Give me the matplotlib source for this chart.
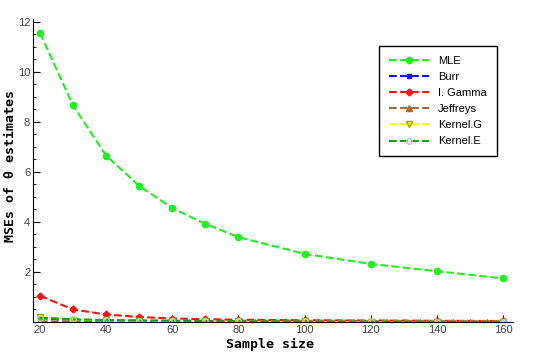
import matplotlib.pyplot as plt
from matplotlib.ticker import MultipleLocator

# sample sizes and MSEs of theta estimates
n = [20, 30, 40, 50, 60, 70, 80, 100, 120, 140, 160]
mle = [11.55, 8.65, 6.65, 5.44, 4.55, 3.92, 3.39, 2.72, 2.32, 2.03, 1.74]
burr = [0.15, 0.09, 0.06, 0.05, 0.04, 0.035, 0.03, 0.025, 0.02, 0.018, 0.015]
igamma = [1.05, 0.50, 0.30, 0.20, 0.14, 0.11, 0.09, 0.07, 0.06, 0.05, 0.04]
jeffreys = [0.03, 0.02, 0.015, 0.012, 0.01, 0.009, 0.008, 0.007, 0.006, 0.005, 0.005]
kernel_g = [0.20, 0.10, 0.07, 0.05, 0.04, 0.035, 0.03, 0.025, 0.02, 0.018, 0.015]
kernel_e = [0.17, 0.11, 0.08, 0.06, 0.05, 0.04, 0.035, 0.03, 0.025, 0.02, 0.018]

fig = plt.figure(figsize=(5.45, 3.53), dpi=100)
ax = fig.add_axes([0.0606, 0.0878, 0.8807, 0.858])

ax.plot(n, mle, '--', color='#22ee22', lw=1.5, marker='o', ms=4.5, label='MLE')
ax.plot(n, burr, '--', color='#1010ff', lw=1.5, marker='s', ms=3, label='Burr')
ax.plot(n, igamma, '--', color='#ff1010', lw=1.5, marker='D', ms=3.5, label='I. Gamma')
ax.plot(n, jeffreys, '--', color='#a06a3a', lw=1.5, marker='^', ms=4, label='Jeffreys')
ax.plot(n, kernel_g, '--', color='#ffff00', lw=1.5, marker='v', ms=4,
        markeredgecolor='#a0a000', label='Kernel.G')
ax.plot(n, kernel_e, '--', color='#10a010', lw=1.5, marker='o', ms=4,
        markerfacecolor='none', markeredgecolor='#aaddaa', label='Kernel.E')

ax.set_xlim(17.9, 163)
ax.set_ylim(0, 12.1)
ax.set_xticks([20, 40, 60, 80, 100, 120, 140, 160])
ax.set_yticks([2, 4, 6, 8, 10, 12])
ax.xaxis.set_minor_locator(MultipleLocator(5))
ax.yaxis.set_minor_locator(MultipleLocator(0.5))
ax.tick_params(direction='in', which='major', length=5, width=0.8,
               labelsize=8, labelcolor='#444444', pad=2)
ax.tick_params(direction='in', which='minor', length=2.5, width=0.6)
for s in ['top', 'right']:
    ax.spines[s].set_visible(False)
ax.spines['bottom'].set_position(('data', 0))

for lab in ax.get_xticklabels() + ax.get_yticklabels():
    lab.set_family('Liberation Sans')

fig.text(0.496, 0.025, 'Sample size', family='DejaVu Sans Mono', weight='bold',
         fontsize=9.5, ha='center', va='center')
fig.text(0.02, 0.53, 'MSEs of θ estimates', family='DejaVu Sans Mono', weight='bold',
         fontsize=9.5, ha='center', va='center', rotation=90)

leg = ax.legend(loc='upper left', bbox_to_anchor=(0.71, 0.93), frameon=True, fancybox=False,
                edgecolor='black', framealpha=1, handlelength=3.6,
                prop={'family': 'Liberation Sans', 'size': 8},
                borderpad=0.9, labelspacing=0.55, handletextpad=0.8)
leg.get_frame().set_linewidth(1)

fig.savefig('out.png', dpi=100)
